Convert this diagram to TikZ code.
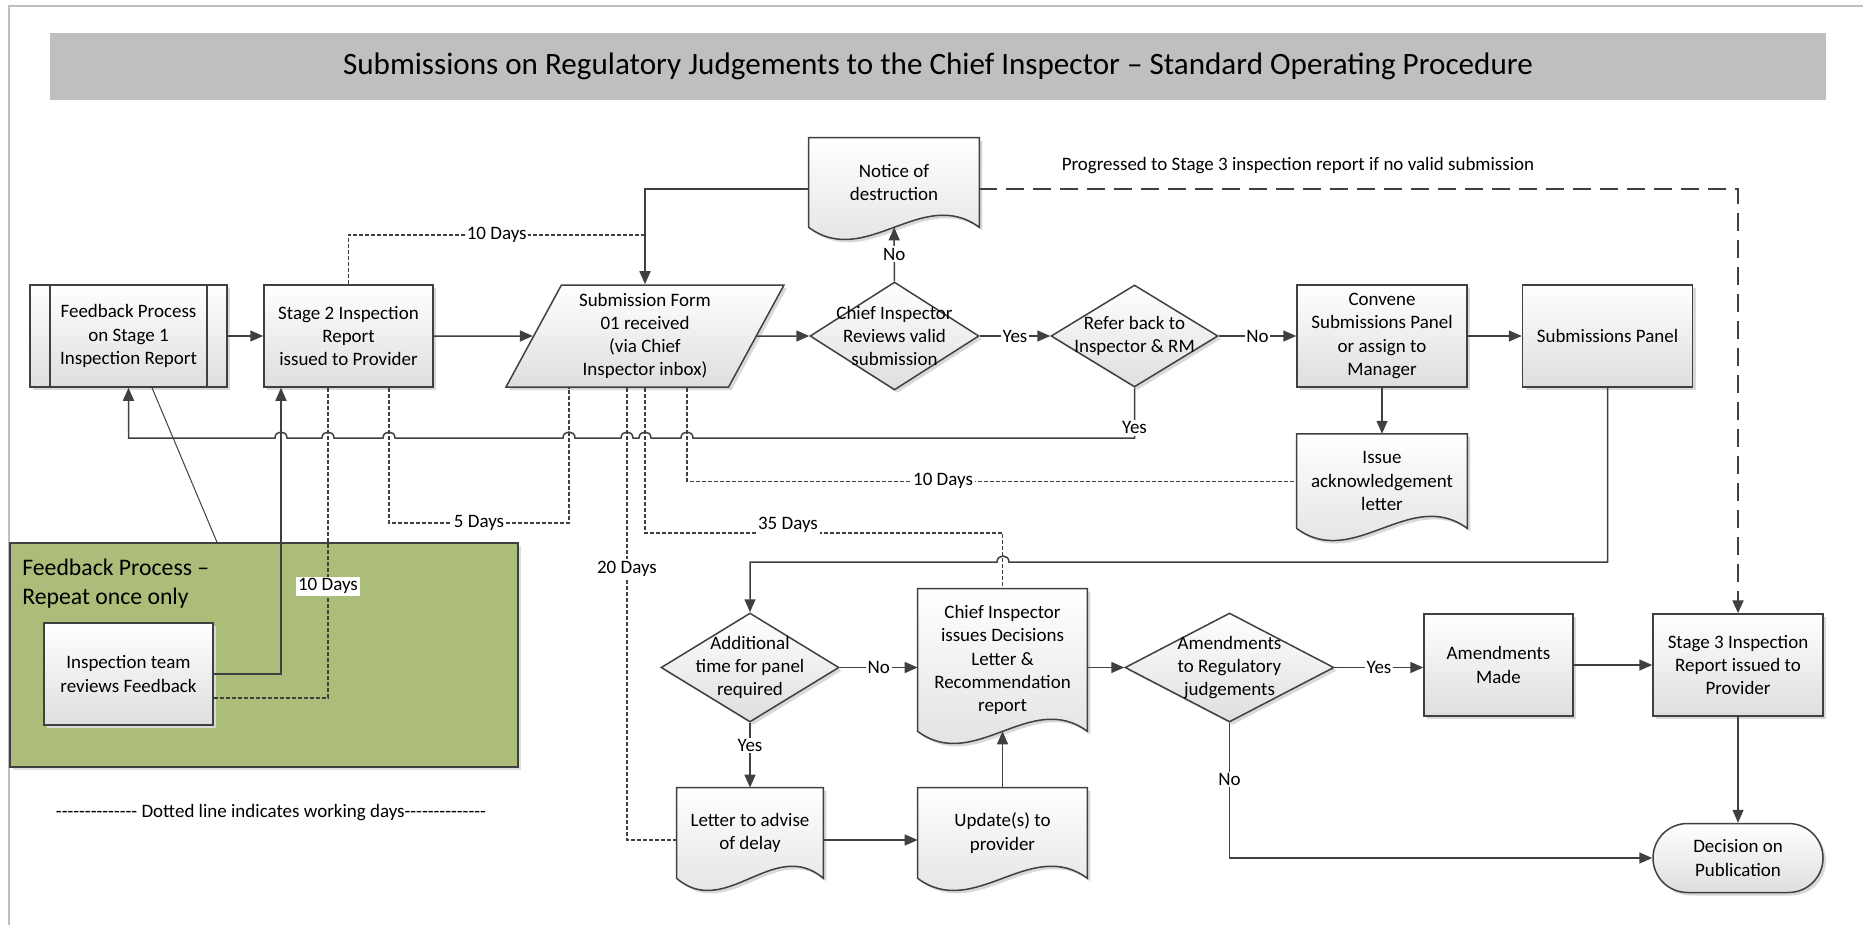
\documentclass[tikz,border=0pt]{standalone}
\usepackage{fontspec}
\newfontfamily\calibri{Carlito}
\usetikzlibrary{shapes.geometric, arrows.meta, positioning, calc, shadows}

\definecolor{linegray}{RGB}{64,64,64}
\definecolor{bargray}{RGB}{191,191,191}
\definecolor{grpgreen}{RGB}{171,189,120}
\definecolor{shadegray}{RGB}{222,222,222}

\newcommand{\nodefont}{\calibri\fontsize{10.8}{13.2}\selectfont}
\newcommand{\hyrun}{\foreach \i in {1,...,14}{\hbox{-}}}

\pgfdeclarelayer{back}
\pgfsetlayers{back,main}

\tikzset{
    base/.style={draw=linegray, line width=0.3mm, align=center, font=\nodefont, inner sep=0pt,
        top color=white, bottom color=shadegray,
        drop shadow={shadow xshift=0.6mm, shadow yshift=-0.6mm, fill=black!15, opacity=1}},
    process/.style={base, rectangle, minimum width=34mm, minimum height=20.4mm},
    subproc/.style={process, path picture={
        \draw[line] ([xshift=4mm]path picture bounding box.north west) -- ([xshift=4mm]path picture bounding box.south west)
            ([xshift=-4mm]path picture bounding box.north east) -- ([xshift=-4mm]path picture bounding box.south east);}},
    data/.style={base, trapezium, trapezium left angle=63, trapezium right angle=117, trapezium stretches=true,
        minimum width=55.6mm, minimum height=20.4mm},
    decision/.style={base, diamond, minimum width=33.8mm, minimum height=21.6mm},
    terminal/.style={base, rectangle, rounded corners=6.9mm, minimum width=34mm, minimum height=13.8mm},
    doc/.style={rectangle, align=center, font=\nodefont, inner sep=0pt, minimum width=34mm, minimum height=18mm},
    docpaper/.style={draw=linegray, line width=0.3mm, top color=white, bottom color=shadegray,
        drop shadow={shadow xshift=0.6mm, shadow yshift=-0.6mm, fill=black!15, opacity=1}},
    group/.style={draw=linegray, line width=0.3mm, fill=grpgreen,
        drop shadow={shadow xshift=0.6mm, shadow yshift=-0.6mm, fill=black!12, opacity=1}},
    dtext/.style={align=center, font=\nodefont, inner sep=0pt},
    line/.style={draw=linegray, line width=0.3mm},
    arrow/.style={line, -{Triangle[length=2.6mm, width=2.2mm]}},
    days/.style={draw=linegray, line width=0.24mm, dash pattern=on 0.8mm off 0.4mm},
    longdash/.style={draw=linegray, line width=0.4mm, dash pattern=on 3.6mm off 1.8mm, -{Triangle[length=2.6mm, width=2.2mm]}},
    tag/.style={fill=white, inner sep=1pt, font=\nodefont}
}

\begin{document}
\begin{tikzpicture}[x=0.2mm, y=-0.2mm, node distance=10mm]
    \useasboundingbox (0,0) rectangle (1863,925);
    \draw [draw=bargray, line width=0.4mm] (9,925) -- (9,6) -- (1863,6);

    \node (title) [fill=bargray, minimum width=355.2mm, minimum height=13.4mm,
        font=\calibri\fontsize{17.7}{21}\selectfont] at (938,66.5)
        {Submissions on Regulatory Judgements to the Chief Inspector – Standard Operating Procedure};

    % feedback group
    \node (fbgroup) [group, minimum width=101.6mm, minimum height=44.8mm] at (264,655) {};
    \node (fbgrouptext) [anchor=west, align=left, inner sep=0pt, font=\calibri\fontsize{13.5}{16.5}\selectfont] at (22,584)
        {Feedback Process –\\Repeat once only};
    \node (inspteam) [process, minimum width=33.8mm] at (128.5,674) {Inspection team\\reviews Feedback};

    % top row
    \node (fbone) [subproc, minimum width=39.4mm] at (128.5,336) {Feedback Process\\on Stage 1\\Inspection Report};
    \node (stagetwo) [process, minimum width=33.8mm] at (348.5,336) {Stage 2 Inspection\\Report\\issued to Provider};
    \node (subform) [data] at (645,336) {Submission Form\\01 received\\(via Chief\\Inspector inbox)};
    \node (review) [decision, label={[dtext]center:Chief Inspector\\Reviews valid\\submission}] at (894.5,336) {};
    \node (notice) [doc, minimum height=17.8mm] at (894,182.5) {Notice of\\destruction};
    \node (refer) [decision, minimum width=33.4mm, minimum height=20.4mm,
        label={[dtext]center:Refer back to\\Inspector \& RM}] at (1134.5,336) {};
    \node (convene) [process] at (1382,336) {Convene\\Submissions Panel\\or assign to\\Manager};
    \node (panel) [process, right=10.8mm of convene] {Submissions Panel};
    \node (ackltr) [doc, below=9.2mm of convene, minimum height=18.8mm] {Issue\\acknowledgement\\letter};

    % bottom row
    \node (addtime) [decision, minimum width=35.6mm, minimum height=21.8mm,
        label={[dtext]center:Additional\\time for panel\\required}] at (750,667.5) {};
    \node (ciletter) [doc, minimum width=33.8mm, minimum height=28.4mm] at (1002.5,660)
        {Chief Inspector\\issues Decisions\\Letter \&\\Recommendation\\report};
    \node (amend) [decision, minimum width=41.8mm, minimum height=21.8mm,
        label={[dtext]center:Amendments\\to Regulatory\\judgements}] at (1229.5,667.5) {};
    \node (amendmade) [process, minimum width=29.8mm] at (1498.5,665) {Amendments\\Made};
    \node (stagethree) [process] at (1738,665) {Stage 3 Inspection\\Report issued to\\Provider};
    \node (pubdecision) [terminal, below=21.2mm of stagethree] {Decision on\\Publication};
    \node (delay) [doc, minimum width=29.2mm] at (750,833) {Letter to advise\\of delay};
    \node (update) [doc, minimum width=33.8mm] at (1002.5,833) {Update(s) to\\provider};

    \node (legend) [font=\nodefont, inner sep=0pt] at (271,813) {\hyrun{} Dotted line indicates working days\hyrun};

    % document shapes
    \begin{pgfonlayer}{back}
        \foreach \d in {notice,ackltr,ciletter,delay,update}
            \path [docpaper] (\d.north west) -- (\d.north east) -- (\d.south east)
                .. controls ($(\d.south east)!0.333!(\d.south west)+(0,-42)$) and ($(\d.south east)!0.667!(\d.south west)+(0,42)$) .. (\d.south west) -- cycle;
    \end{pgfonlayer}

    % main flow
    \draw [arrow] (fbone) -- (stagetwo);
    \draw [arrow] (stagetwo) -- (subform);
    \draw [arrow] (subform) -- (review);
    \draw [arrow] (review) -- node[tag] {No} (notice);
    \draw [arrow] ([yshift=-1.3mm]notice.west) -| (subform.north -| subform.center);
    \draw [arrow] (review) -- node[tag] {Yes} (refer);
    \draw [arrow] (refer) -- node[tag] {No} (convene);
    \draw [arrow] (convene) -- (panel);
    \draw [arrow] (convene) -- (ackltr);
    \draw [arrow] (panel.south) |- (1009,562) .. controls (1009,554) and (997,554) .. (997,562) -| (addtime.north);
    \draw [arrow] (refer.south) -- node[tag, pos=0.8] {Yes} (1134.5,438)
        \foreach \x in {687,645,627,569,389,328,281} { -- (\x+6,438) .. controls (\x+6,430) and (\x-6,430) .. (\x-6,438) }
        -- (fbone.south |- 0,438) -- (fbone.south);
    \draw [longdash] ([yshift=-1.3mm]notice.east) -| node[above=5pt, pos=0.21, font=\nodefont] {Progressed to Stage 3 inspection report if no valid submission} (stagethree.north);
    \draw [arrow] (addtime.east) -- node[tag] {No} (addtime.east -| ciletter.west);
    \draw [arrow] (addtime) -- node[tag, pos=0.35] {Yes} (delay);
    \draw [arrow] ([yshift=-1.4mm]delay.east) -- ([yshift=-1.4mm]delay.east -| update.west);
    \draw [arrow] (update) -- (ciletter);
    \draw [arrow] (ciletter.east |- amend.west) -- (amend.west);
    \draw [arrow] (amend.east) -- node[tag] {Yes} (amend.east -| amendmade.west);
    \draw [arrow] (amendmade) -- (stagethree);
    \draw [arrow] (stagethree) -- (pubdecision);
    \draw [arrow] (amend.south) |- node[tag, pos=0.21] {No} (pubdecision.west);

    % feedback loop
    \draw [line, line width=0.2mm] (fbone.south -| 152,0) -- (fbgroup.north -| 217,0);
    \draw [arrow] (inspteam.east) -| (stagetwo.south -| 281,0);
    \draw [days] ([yshift=-4.8mm]inspteam.east) -| node[tag, pos=0.68] {10 Days} (stagetwo.south -| 328,0);

    % working days
    \draw [days] (stagetwo.north) |- node[tag, pos=0.75] {10 Days} (645,235);
    \draw [days] (stagetwo.south -| 389,0) |- node[tag, pos=0.75] {5 Days} (569,523) -- (subform.south -| 569,0);
    \draw [days] (subform.south -| 627,0) |- node[tag, pos=0.2] {20 Days} ([yshift=-1.4mm]delay.west);
    \draw [days] (subform.south -| subform.center) |- (ciletter.north |- 0,533)
        node[tag, pos=0.7, yshift=1.6mm] {35 Days} -- (ciletter.north);
    \draw [days] (subform.south -| 687,0) |- node[tag, pos=0.71] {10 Days} (ackltr.west);
\end{tikzpicture}
\end{document}
